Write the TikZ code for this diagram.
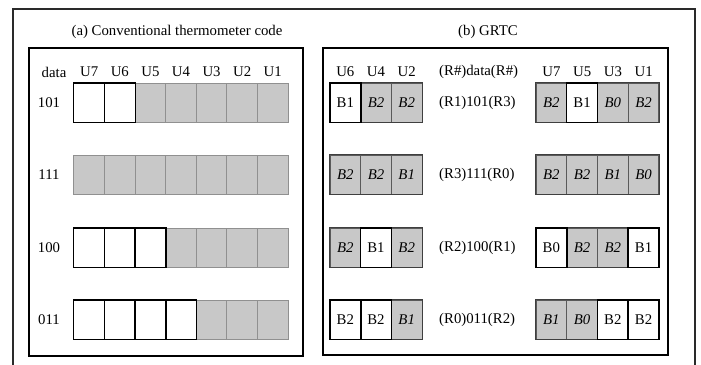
\documentclass[tikz,border=0pt]{standalone}
\usepackage{fontspec}
\setmainfont{Liberation Serif}
\definecolor{cellgray}{HTML}{C8C8C8}
\definecolor{lborder}{HTML}{909090}
\definecolor{rborder}{HTML}{5A5A5A}
\definecolor{frame}{HTML}{2A2A2A}
\begin{document}
\begin{tikzpicture}[x=1pt,y=-1pt,
  lbl/.style={font=\fontsize{14.8}{16}\selectfont, inner sep=0},
  cellbase/.style={minimum width=30.6pt, minimum height=39pt, inner sep=0, font=\fontsize{14.8}{16}\selectfont},
  lcell0/.style={cellbase, fill=cellgray, draw=lborder, line width=1pt},
  lcell1/.style={cellbase, fill=white},
  rcell0/.style={cellbase, fill=cellgray, draw=rborder, line width=0.9pt, font=\fontsize{14.8}{16}\selectfont\itshape},
  rcell1/.style={cellbase, fill=white},
  wborder/.style={draw=black, line width=1.4pt},
  grpborder/.style={draw=rborder!70!black, line width=1.2pt},
  panel/.style={draw=black, line width=1.3pt},
  outerframe/.style={draw=frame, line width=1.6pt},
]
\useasboundingbox (0,0) rectangle (701,364);
% outer frame
\draw[outerframe] (13,366) -- (13,9) -- (695,9) -- (695,366);
% panels
\draw[panel] (29,48) rectangle (303,356);
\draw[panel] (323,48) rectangle (668,355);
% titles
\node[lbl] (ta) at (177,32) {(a) Conventional thermometer code};
\node[lbl] (tb) at (488,32) {(b) GRTC};
% ---------- panel (a) ----------
\node[lbl] (hdata) at (54,72) {data};
\foreach \u [count=\i] in {U7,U6,U5,U4,U3,U2,U1}
  \node[lbl] (hL\i) at ({74+30.57*(\i-0.5)},72) {\u};
\foreach \lab/\nw/\y [count=\r] in {101/2/102.5, 111/0/174.5, 100/3/247.5, 011/4/319.5}{
  \node[lbl] (rowlab\r) at (49,\y) {\lab};
  \foreach \i in {1,...,7}{
    \ifnum\i>\nw
      \node[lcell0] (L\r-\i) at ({74+30.57*(\i-0.5)},\y) {};
    \else
      \node[lcell1] (L\r-\i) at ({74+30.57*(\i-0.5)},\y) {};
    \fi
  }
  \foreach \i in {1,...,7}{
    \ifnum\i>\nw\else
      \draw[wborder] (L\r-\i.north west) rectangle (L\r-\i.south east);
    \fi
  }
}
% ---------- panel (b) ----------
\foreach \u [count=\i] in {U6,U4,U2}
  \node[lbl] (hA\i) at ({330+30.67*(\i-0.5)},72) {\u};
\node[lbl, anchor=west] (hmid) at (439,72) {(R\#)data(R\#)};
\foreach \u [count=\i] in {U7,U5,U3,U1}
  \node[lbl] (hB\i) at ({536+30.75*(\i-0.5)},72) {\u};
\foreach \y/\mid/\A/\B [count=\r] in {
  102.5/(R1)101(R3)/{1/B1,0/B2,0/B2}/{0/B2,1/B1,0/B0,0/B2},
  174.5/(R3)111(R0)/{0/B2,0/B2,0/B1}/{0/B2,0/B2,0/B1,0/B0},
  247.5/(R2)100(R1)/{0/B2,1/B1,0/B2}/{1/B0,0/B2,0/B2,1/B1},
  319.5/(R0)011(R2)/{1/B2,1/B2,0/B1}/{0/B1,0/B0,1/B2,1/B2}}{
  \node[lbl, anchor=west] (mid\r) at (439,\y) {\mid};
  \foreach \f/\t [count=\i] in \A
    \node[rcell\f] (RA\r-\i) at ({330+30.67*(\i-0.5)},\y) {\t};
  \foreach \f/\t [count=\i] in \B
    \node[rcell\f] (RB\r-\i) at ({536+30.75*(\i-0.5)},\y) {\t};
  \draw[grpborder] (RA\r-1.north west) rectangle (RA\r-3.south east);
  \draw[grpborder] (RB\r-1.north west) rectangle (RB\r-4.south east);
  \foreach \f/\t [count=\i] in \A{
    \ifnum\f=1 \draw[wborder] (RA\r-\i.north west) rectangle (RA\r-\i.south east);\fi
  }
  \foreach \f/\t [count=\i] in \B{
    \ifnum\f=1 \draw[wborder] (RB\r-\i.north west) rectangle (RB\r-\i.south east);\fi
  }
}
\end{tikzpicture}
\end{document}
